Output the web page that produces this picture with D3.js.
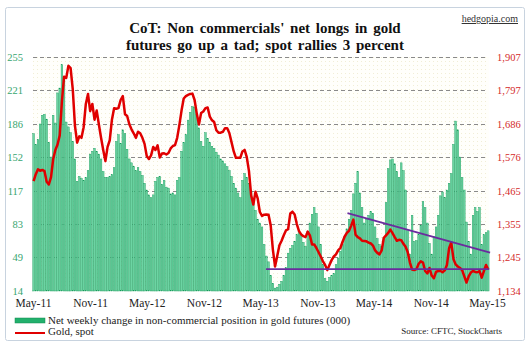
<!DOCTYPE html>
<html>
<head>
<meta charset="utf-8">
<script src="https://cdn.jsdelivr.net/npm/d3@7"></script>
<style>
  body { margin: 0; background: #fff; }
  svg { display: block; }
  text { font-family: "Liberation Serif", "Times New Roman", serif; }
</style>
</head>
<body>
<svg id="chart" width="530" height="351"></svg>
<script>
// weekly CoT report dates start here, one bar per week
const firstWeek = new Date(2011, 4, 3);
const weekCount = 210;

// net non-commercial longs in gold futures (000 contracts)
const netLongs = [
  176,165,170,186,195,196,191,167,152,195,
  187,218,223,247,232,188,183,177,168,150,
  127,132,130,128,131,138,155,158,161,158,
  155,150,137,131,131,132,134,141,168,175,
  166,180,176,160,150,146,142,138,141,137,
  133,125,118,113,110,113,127,131,132,124,
  128,121,120,114,115,113,128,131,158,167,
  175,190,198,204,203,196,182,168,163,177,
  171,167,163,161,157,154,150,148,145,142,
  138,132,125,120,115,110,128,135,131,125,
  117,105,97,88,84,80,62,50,44,30,
  22,17,18,21,24,30,38,53,58,61,
  65,72,76,71,64,60,75,84,93,100,
  94,80,62,41,27,24,28,30,32,41,
  48,55,62,70,78,88,97,114,125,137,
  115,100,84,88,92,96,94,80,68,62,
  60,69,105,140,149,150,145,137,131,146,
  138,118,76,52,92,65,66,72,82,106,
  100,84,63,52,70,80,92,112,116,110,
  118,125,135,165,189,180,152,131,118,85,
  65,52,92,100,96,100,62,72,74,76
];

// gold spot ($/oz) at the same weeks
const goldSpot = [
  1497,1520,1536,1531,1534,1530,1495,1486,1510,1570,
  1600,1618,1648,1760,1842,1838,1878,1870,1800,1680,
  1624,1645,1640,1675,1752,1785,1728,1752,1700,1730,
  1684,1640,1600,1563,1610,1632,1700,1738,1736,1738,
  1765,1778,1718,1712,1685,1668,1655,1640,1660,1655,
  1640,1620,1580,1570,1582,1610,1600,1615,1575,1588,
  1589,1585,1590,1605,1613,1616,1640,1682,1730,1770,
  1778,1782,1785,1786,1765,1720,1684,1722,1727,1738,
  1740,1710,1698,1692,1665,1657,1657,1660,1672,1672,
  1655,1625,1595,1574,1574,1574,1595,1600,1576,1530,
  1450,1420,1462,1440,1395,1382,1386,1387,1386,1350,
  1270,1215,1250,1285,1300,1318,1334,1338,1390,1396,
  1387,1355,1332,1321,1315,1312,1330,1318,1288,1288,
  1276,1262,1248,1232,1220,1203,1220,1236,1248,1255,
  1268,1276,1296,1314,1326,1333,1350,1370,1320,1312,
  1308,1300,1299,1298,1294,1291,1284,1268,1260,1255,
  1268,1310,1318,1326,1337,1325,1312,1300,1303,1302,
  1290,1280,1262,1228,1205,1203,1206,1224,1232,1228,
  1200,1192,1210,1185,1176,1197,1200,1200,1196,1202,
  1220,1275,1294,1240,1222,1215,1210,1203,1182,1162,
  1182,1195,1200,1197,1196,1200,1178,1200,1220,1205
];

// axis ticks
const leftTicks = [14, 49, 83, 117, 152, 186, 221, 255];
const rightTicks = [1134, 1245, 1355, 1465, 1576, 1686, 1797, 1907];
const xTickDates = ["2011-05-01","2011-11-01","2012-05-01","2012-11-01","2013-05-01",
                    "2013-11-01","2014-05-01","2014-11-01","2015-05-01"];

// purple trendlines drawn on the gold price
const supportLine = [["2013-05-20", 1206], ["2015-05-08", 1206]];
const resistLine = [["2014-02-06", 1391], ["2015-05-11", 1261]];

const parse = d3.timeParse("%Y-%m-%d");
const weeks = d3.range(weekCount).map(i => d3.timeWeek.offset(firstWeek, i));

const svg = d3.select("#chart");

const plot = {left: 33, right: 487, top: 57, bottom: 291};

const x = d3.scaleTime()
    .domain([new Date(2011, 4, 1), new Date(2015, 4, 1)])
    .range([plot.left, plot.right]);
const yL = d3.scaleLinear().domain([14, 255]).range([plot.bottom, plot.top]);
const yR = d3.scaleLinear().domain([1134, 1907]).range([plot.bottom, plot.top]);

// outer panel
svg.append("rect")
    .attr("x", 5.5).attr("y", 7.5)
    .attr("width", 519).attr("height", 333)
    .attr("rx", 2)
    .attr("fill", "#fff")
    .attr("stroke", "#c8d3df");

// dotted background of the plot area
const defs = svg.append("defs");
const pat = defs.append("pattern")
    .attr("id", "dots")
    .attr("width", 4).attr("height", 4)
    .attr("patternUnits", "userSpaceOnUse");
pat.append("rect").attr("width", 4).attr("height", 4).attr("fill", "#fffffb");
pat.append("rect").attr("x", 1).attr("y", 1).attr("width", 1).attr("height", 1).attr("fill", "#f1eed6");

svg.append("rect")
    .attr("x", plot.left).attr("y", plot.top)
    .attr("width", plot.right + 2 - plot.left)
    .attr("height", plot.bottom - plot.top)
    .attr("fill", "url(#dots)");

// title
svg.append("text")
    .attr("x", 265).attr("y", 33)
    .attr("text-anchor", "middle")
    .style("font-size", "15px").style("font-weight", "bold")
    .style("word-spacing", "2px")
    .attr("fill", "#111")
    .text("CoT:  Non commercials'  net longs in gold");
svg.append("text")
    .attr("x", 265).attr("y", 50)
    .attr("text-anchor", "middle")
    .style("font-size", "15px").style("font-weight", "bold")
    .style("word-spacing", "2px")
    .attr("fill", "#111")
    .text("futures go up a tad;  spot rallies 3 percent");

svg.append("text")
    .attr("x", 518).attr("y", 22)
    .attr("text-anchor", "end")
    .style("font-size", "10px")
    .style("text-decoration", "underline")
    .attr("fill", "#333")
    .text("hedgopia.com");

// gridlines
svg.append("g")
    .selectAll("line")
    .data(leftTicks.filter(d => d > 14))
    .enter().append("line")
    .attr("x1", plot.left).attr("x2", plot.right + 1)
    .attr("y1", d => Math.round(yL(d)) + 0.5)
    .attr("y2", d => Math.round(yL(d)) + 0.5)
    .attr("stroke", "#8a8a8a")
    .attr("stroke-dasharray", "4,3");

// bars
const step = x(weeks[1]) - x(weeks[0]);
svg.append("g")
    .selectAll("rect")
    .data(netLongs)
    .enter().append("rect")
    .attr("x", (d, i) => x(weeks[i]) - step * 0.38)
    .attr("y", d => yL(d))
    .attr("width", step * 0.76)
    .attr("height", d => yL(14) - yL(d))
    .attr("fill", "#6cd4a3")
    .attr("stroke", "#129a58")
    .attr("stroke-width", 0.4);

// gold line
const goldLine = d3.line()
    .x((d, i) => x(weeks[i]))
    .y(d => yR(d));
svg.append("path")
    .datum(goldSpot)
    .attr("d", goldLine)
    .attr("fill", "none")
    .attr("stroke", "#e00000")
    .attr("stroke-width", 2.5)
    .attr("stroke-linejoin", "round");

// trendlines
const trend = d3.line()
    .x(d => x(parse(d[0])))
    .y(d => yR(d[1]));
[supportLine, resistLine].forEach(t => {
  svg.append("path")
      .datum(t)
      .attr("d", trend)
      .attr("fill", "none")
      .attr("stroke", "#6a2c9e")
      .attr("stroke-width", 1.8);
});

// left axis (green)
svg.append("g")
    .attr("transform", "translate(23,0)")
    .call(d3.axisLeft(yL).tickValues(leftTicks).tickSize(0).tickPadding(0))
    .call(g => g.select(".domain").remove())
    .selectAll("text")
    .style("font-family", "Liberation Serif, serif")
    .style("font-size", "10.5px")
    .attr("fill", "#36a56f");

// right axis (red)
svg.append("g")
    .attr("transform", "translate(497,0)")
    .call(d3.axisRight(yR).tickValues(rightTicks).tickSize(0).tickPadding(0).tickFormat(d3.format(",")))
    .call(g => g.select(".domain").remove())
    .selectAll("text")
    .style("font-family", "Liberation Serif, serif")
    .style("font-size", "10.5px")
    .attr("fill", "#d42a2a");

// bottom axis
svg.append("g")
    .attr("transform", "translate(0,298)")
    .call(d3.axisBottom(x).tickValues(xTickDates.map(parse)).tickSize(0).tickPadding(0)
      .tickFormat(d3.timeFormat("%b-%y")))
    .call(g => g.select(".domain").remove())
    .selectAll("text")
    .attr("dy", "0.75em")
    .style("font-family", "Liberation Serif, serif")
    .style("font-size", "11.5px")
    .attr("fill", "#222");

// legend
const legend = svg.append("g");
legend.append("rect")
    .attr("x", 15).attr("y", 318)
    .attr("width", 30).attr("height", 5)
    .attr("fill", "#22b06c")
    .attr("stroke", "#128a50").attr("stroke-width", 0.5);
legend.append("text")
    .attr("x", 48).attr("y", 324)
    .style("font-size", "11px")
    .attr("fill", "#222")
    .text("Net weekly change in non-commercial position in gold futures (000)");
legend.append("line")
    .attr("x1", 15).attr("x2", 45)
    .attr("y1", 333).attr("y2", 333)
    .attr("stroke", "#e00000").attr("stroke-width", 2);
legend.append("text")
    .attr("x", 48).attr("y", 335)
    .style("font-size", "11px")
    .attr("fill", "#222")
    .text("Gold, spot");

svg.append("text")
    .attr("x", 502).attr("y", 334)
    .attr("text-anchor", "end")
    .style("font-size", "9px")
    .attr("fill", "#222")
    .text("Source: CFTC, StockCharts");
</script>
</body>
</html>
